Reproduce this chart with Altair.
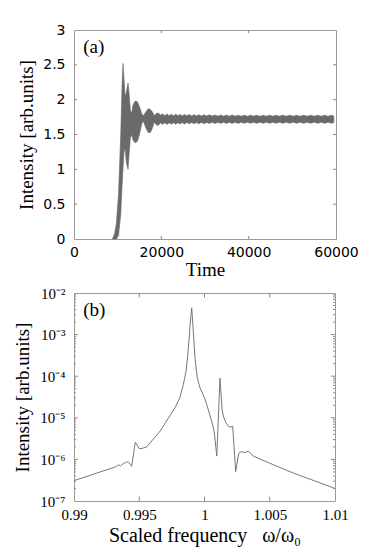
import altair as alt
import pandas as pd

# ---------------- panel (a): envelope of the fast oscillating intensity ----------------
time_a = [8800, 9300, 9700, 10200, 10700, 11000, 11220, 11450, 11700, 11980, 12370, 12600,
          12900, 13200, 13500, 14000, 14500, 15000, 15500, 15900, 16400, 17000, 17500, 18000,
          18400, 18800, 19300, 19800, 20300, 20800, 21300, 21800, 22300, 22800, 23300, 23800,
          24300, 24800, 25300, 25850, 26400, 26950, 27500, 28050, 28600, 29200, 29800, 30400,
          31000, 31650, 32300, 32950, 33600, 34250, 34900, 35550, 36200, 36900, 37600, 38300,
          39000, 39700, 40400, 41100, 41800, 42550, 43300, 44050, 44800, 45550, 46300, 47050,
          47800, 48600, 49400, 50200, 51000, 51800, 52600, 53400, 54200, 55000, 55800, 56600,
          57400, 58200, 59000, 59500]
low_a = [0.00, 0.00, 0.00, 0.05, 0.35, 0.75, 1.00, 1.25, 1.30, 1.10, 1.00, 1.20,
         1.45, 1.50, 1.42, 1.38, 1.40, 1.50, 1.65, 1.69, 1.60, 1.53, 1.53, 1.60,
         1.68, 1.64, 1.63, 1.67, 1.645, 1.67, 1.645, 1.67, 1.648, 1.67, 1.648, 1.67,
         1.652, 1.672, 1.652, 1.672, 1.653, 1.672, 1.655, 1.673, 1.655, 1.674, 1.656, 1.674,
         1.657, 1.675, 1.658, 1.675, 1.658, 1.675, 1.659, 1.675, 1.659, 1.676, 1.659, 1.676,
         1.660, 1.676, 1.660, 1.676, 1.660, 1.676, 1.660, 1.676, 1.660, 1.676, 1.660, 1.676,
         1.660, 1.676, 1.660, 1.676, 1.660, 1.676, 1.660, 1.676, 1.660, 1.676, 1.660, 1.676,
         1.660, 1.676, 1.660, 1.672]
high_a = [0.00, 0.08, 0.22, 0.65, 1.50, 2.20, 2.52, 2.30, 2.05, 2.10, 2.24, 2.10,
          1.85, 1.80, 1.92, 1.98, 1.97, 1.90, 1.80, 1.77, 1.82, 1.87, 1.86, 1.82,
          1.77, 1.80, 1.81, 1.78, 1.795, 1.77, 1.795, 1.77, 1.792, 1.77, 1.792, 1.77,
          1.788, 1.768, 1.788, 1.768, 1.787, 1.766, 1.785, 1.766, 1.785, 1.765, 1.783, 1.765,
          1.782, 1.764, 1.781, 1.763, 1.780, 1.763, 1.779, 1.763, 1.779, 1.762, 1.778, 1.762,
          1.778, 1.762, 1.778, 1.762, 1.778, 1.762, 1.778, 1.762, 1.778, 1.762, 1.778, 1.762,
          1.778, 1.762, 1.778, 1.762, 1.778, 1.762, 1.778, 1.762, 1.778, 1.762, 1.778, 1.762,
          1.778, 1.762, 1.778, 1.765]

# ---------------- panel (b): spectrum ----------------
freq_b = [0.9900, 0.9910, 0.9920, 0.9930, 0.99327, 0.99340, 0.99355, 0.99370, 0.99404,
          0.99420, 0.99442, 0.99470, 0.99500, 0.99525, 0.99557, 0.99660, 0.99720, 0.99774,
          0.99810, 0.99838, 0.99860, 0.99877, 0.99890, 0.99902, 0.99912, 0.99927, 0.99945,
          0.99966, 1.00000, 1.00017, 1.00055, 1.00075, 1.00094, 1.00119, 1.00135, 1.00144,
          1.00165, 1.00182, 1.00200, 1.00216, 1.00239, 1.00262, 1.00272, 1.00290, 1.00310,
          1.00336, 1.00374, 1.00500, 1.00680, 1.00850, 1.01000]
inten_b = [3.1e-7, 3.9e-7, 5.0e-7, 6.3e-7, 6.8e-7, 7.4e-7, 7.0e-7, 7.6e-7, 8.7e-7,
           8.5e-7, 6.8e-7, 2.6e-6, 1.8e-6, 1.85e-6, 2.0e-6, 4.8e-6, 9.5e-6, 1.74e-5,
           3.0e-5, 6.3e-5, 1.4e-4, 4.8e-4, 1.8e-3, 4.4e-3, 1.5e-3, 2.75e-4, 9.0e-5,
           5.2e-5, 3.0e-5, 2.1e-5, 8.3e-6, 4.5e-6, 1.2e-6, 9.0e-5, 1.6e-5, 1.1e-5,
           7.5e-6, 6.3e-6, 6.0e-6, 6.3e-6, 5.1e-7, 1.4e-6, 1.5e-6, 1.52e-6, 1.45e-6,
           1.6e-6, 1.2e-6, 8.1e-7, 4.7e-7, 3.0e-7, 2.0e-7]

# tick values
xt_a = [0, 20000, 40000, 60000]
yt_a = [0, 0.5, 1, 1.5, 2, 2.5, 3]
xt_b = [0.99, 0.995, 1.0, 1.005, 1.01]
yt_b = [1e-7, 1e-6, 1e-5, 1e-4, 1e-3, 1e-2]
yt_b_minor = [k * d for d in [1e-7, 1e-6, 1e-5, 1e-4, 1e-3] for k in range(2, 10)]

GRAY = "#6a6a6a"
LINE = "#777777"
FRAME = "#9a9a9a"
SERIF = "Liberation Serif"
SANS = "DejaVu Sans"
TA = "Intensity [arb.units]"
TXB = "Scaled frequency\u00a0\u00a0\u00a0ω/ω₀"

common = dict(ticks=False, domain=False, grid=False, labelFlush=False, labelOverlap=False,
              titleFont=SERIF, titleFontWeight="normal")
ax_xa = alt.Axis(values=xt_a, format="d", labelFont=SANS, labelFontSize=14, labelPadding=6,
                 titleFontSize=19, titlePadding=1, **common)
ax_ya = alt.Axis(values=yt_a, format="~g", labelFont=SANS, labelFontSize=14, labelPadding=9,
                 titleFontSize=19, titlePadding=6, **common)
label_expr = ("datum.value < 3e-7 ? '10⁻⁷' : datum.value < 3e-6 ? '10⁻⁶' : "
              "datum.value < 3e-5 ? '10⁻⁵' : datum.value < 3e-4 ? '10⁻⁴' : "
              "datum.value < 3e-3 ? '10⁻³' : '10⁻²'")
ax_xb = alt.Axis(values=xt_b, format="~g", labelFont=SERIF, labelFontSize=15, labelPadding=6,
                 titleFontSize=20, titlePadding=3, **common)
ax_yb = alt.Axis(values=yt_b, labelExpr=label_expr, labelFont=SERIF, labelFontSize=15,
                 labelPadding=9, titleFontSize=19, titlePadding=7, **common)

xs_a = alt.Scale(domain=[0, 60000], nice=False)
ys_a = alt.Scale(domain=[0, 3], nice=False)
xs_b = alt.Scale(domain=[0.99, 1.01], nice=False)
ys_b = alt.Scale(type="log", domain=[1e-7, 1e-2], nice=False)


def XA(f):
    return alt.X(f, scale=xs_a, title="Time", axis=ax_xa)


def YA(f):
    return alt.Y(f, scale=ys_a, title=TA, axis=ax_ya)


def XB(f):
    return alt.X(f, scale=xs_b, title=TXB, axis=ax_xb)


def YB(f):
    return alt.Y(f, scale=ys_b, title=TA, axis=ax_yb)


tick_style = dict(color="#888", strokeWidth=1)

# ---------- panel (a) ----------
df_a = pd.DataFrame({"t": time_a, "lo": low_a, "hi": high_a})
band = alt.Chart(df_a).mark_area(color=GRAY, opacity=1, stroke=GRAY, strokeWidth=0.6).encode(
    x=XA("t:Q"), y=YA("lo:Q"), y2="hi:Q")

tx_a = pd.DataFrame({"x": [20000, 40000], "b0": 0.0, "b1": 0.045, "t0": 2.955, "t1": 3.0})
ty_a = pd.DataFrame({"y": [0.5, 1, 1.5, 2, 2.5], "l0": 0.0, "l1": 690.0, "r0": 59310.0, "r1": 60000.0})
ticks_a = [
    alt.Chart(tx_a).mark_rule(**tick_style).encode(x=XA("x:Q"), y=YA("b0:Q"), y2="b1:Q"),
    alt.Chart(tx_a).mark_rule(**tick_style).encode(x=XA("x:Q"), y=YA("t0:Q"), y2="t1:Q"),
    alt.Chart(ty_a).mark_rule(**tick_style).encode(y=YA("y:Q"), x=XA("l0:Q"), x2="l1:Q"),
    alt.Chart(ty_a).mark_rule(**tick_style).encode(y=YA("y:Q"), x=XA("r0:Q"), x2="r1:Q"),
]
lab_a = alt.Chart(pd.DataFrame({"x": [2100], "y": [2.76], "s": ["(a)"]})).mark_text(
    align="left", baseline="middle", font=SERIF, fontSize=19, color="black").encode(
    x=XA("x:Q"), y=YA("y:Q"), text="s:N")

chart_a = alt.layer(band, *ticks_a, lab_a).properties(width=262, height=209)

# ---------- panel (b) ----------
df_b = pd.DataFrame({"f": freq_b, "I": inten_b})
line_b = alt.Chart(df_b).mark_line(color=LINE, strokeWidth=1).encode(x=XB("f:Q"), y=YB("I:Q"))

tx_b = pd.DataFrame({"x": [0.995, 1.0, 1.005], "b0": 1e-7, "b1": 1.28e-7, "t0": 7.8e-3, "t1": 1e-2})
ty_b = pd.DataFrame({"y": yt_b[1:-1], "l0": 0.99, "l1": 0.99031, "r0": 1.00969, "r1": 1.01})
tm_b = pd.DataFrame({"y": yt_b_minor, "l0": 0.99, "l1": 0.99015, "r0": 1.00985, "r1": 1.01})
ticks_b = [
    alt.Chart(tx_b).mark_rule(**tick_style).encode(x=XB("x:Q"), y=YB("b0:Q"), y2="b1:Q"),
    alt.Chart(tx_b).mark_rule(**tick_style).encode(x=XB("x:Q"), y=YB("t0:Q"), y2="t1:Q"),
]
for d in (ty_b, tm_b):
    ticks_b.append(alt.Chart(d).mark_rule(**tick_style).encode(y=YB("y:Q"), x=XB("l0:Q"), x2="l1:Q"))
    ticks_b.append(alt.Chart(d).mark_rule(**tick_style).encode(y=YB("y:Q"), x=XB("r0:Q"), x2="r1:Q"))

lab_b = alt.Chart(pd.DataFrame({"x": [0.9907], "y": [3.8e-3], "s": ["(b)"]})).mark_text(
    align="left", baseline="middle", font=SERIF, fontSize=19, color="black").encode(
    x=XB("x:Q"), y=YB("y:Q"), text="s:N")

chart_b = alt.layer(line_b, *ticks_b, lab_b).properties(width=261, height=208)

chart = alt.vconcat(chart_a, chart_b, spacing=5).properties(
    padding={"top": 14, "left": 5, "right": 5, "bottom": 5},
    background="white",
).configure_view(stroke=FRAME, strokeWidth=1).configure_axis(
    labelColor="black", titleColor="black")

chart.save("out.html", embed_options={"renderer": "svg", "actions": False})
